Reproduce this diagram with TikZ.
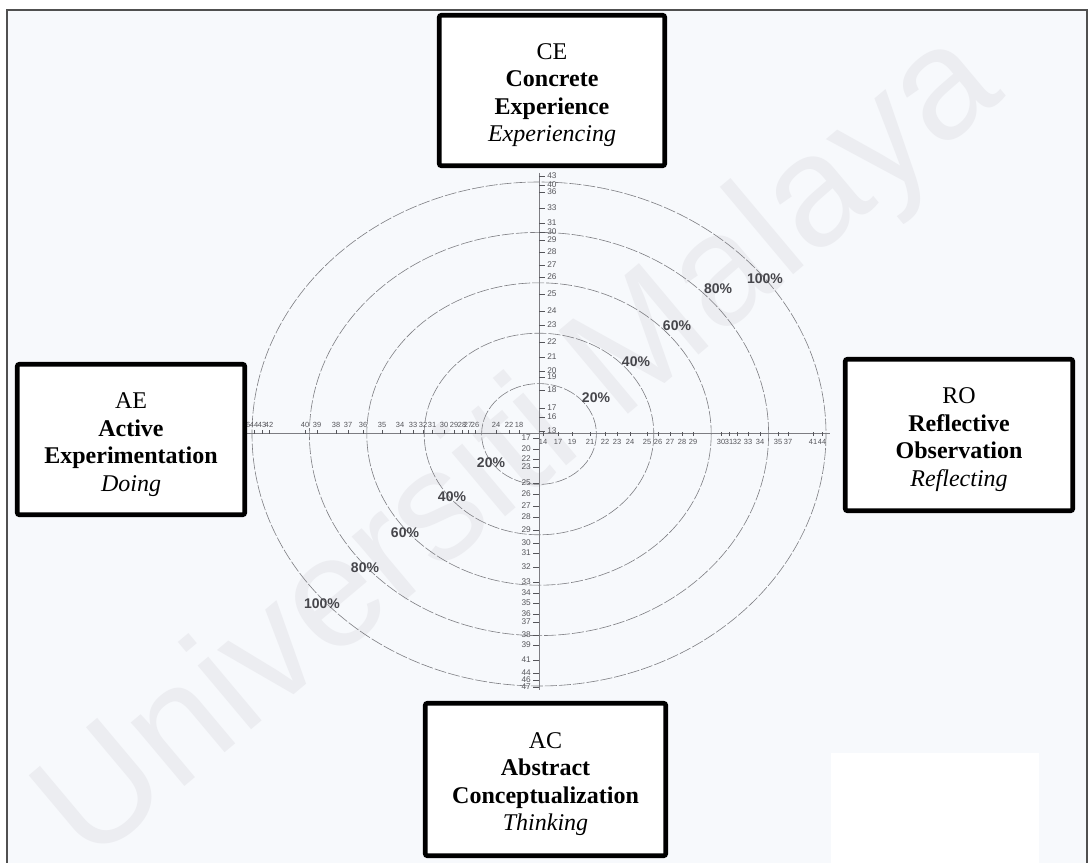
\documentclass[tikz,border=0pt]{standalone}
\usepackage{fontspec}
\setmainfont{Liberation Serif}
\setsansfont{Liberation Sans}
\definecolor{paper}{RGB}{247,249,252}
\definecolor{framegray}{RGB}{80,80,80}
\definecolor{ringgray}{RGB}{125,125,130}
\definecolor{tickgray}{RGB}{85,85,90}
\definecolor{pctgray}{RGB}{70,70,75}
\definecolor{wmgray}{RGB}{236,237,241}
\begin{document}
\begin{tikzpicture}[x=0.75pt,y=-0.75pt,
  stagebox/.style={draw=black, line width=3.4pt, fill=white, rounded corners=1.5pt, inner sep=0pt},
  stagetext/.style={align=center, inner sep=0pt, font=\fontsize{18}{20.6}\selectfont},
  ring/.style={draw=ringgray, line width=0.45pt, dash pattern=on 9pt off 1.5pt},
  axisline/.style={draw=ringgray, line width=0.45pt},
  scaletick/.style={draw=tickgray, line width=0.6pt},
  pct/.style={font=\sffamily\bfseries\fontsize{10.5}{12}\selectfont, text=pctgray, inner sep=0pt},
  vlab/.style={font=\sffamily\fontsize{6.2}{7}\selectfont, text=tickgray, inner sep=0pt},
  hlab/.style={font=\sffamily\fontsize{5.6}{6}\selectfont, text=tickgray, inner sep=0pt},
  stamptext/.style={font=\sffamily\fontsize{118}{118}\selectfont, text=wmgray, inner sep=0pt}]

% page and frame
\useasboundingbox (0,0) rectangle (1088,863);
\fill[white] (0,0) rectangle (1088,863);
\begin{scope}
  \clip (0,0) rectangle (1088,863);
  \filldraw[fill=paper, draw=framegray, line width=1.2pt] (7,10) rectangle (1087,880);
\end{scope}

% watermark
\node[stamptext, rotate=40] (wm) at (522,450) {Universiti Malaya};

% rings of the profile grid
\coordinate (c) at (539,434);
\foreach \k in {1,...,5}
  \draw[ring] (c) ellipse [x radius=57.4*\k, y radius=50.4*\k];

% axes
\draw[axisline] (539,173) -- (539,690);
\draw[axisline] (232,433) -- (830,433);

% upper scale (CE)
\foreach \v/\y in {43/176,40/185,36/192,33/208,31/223,30/232,29/240,28/252,27/265,26/277,
                   25/294,24/311,23/325,22/342,21/357,20/371,19/377,18/390,17/408,16/417,13/431}{
  \draw[scaletick] (539,\y) -- (545,\y);
  \node[vlab, anchor=west] (u\v) at (547,\y) {\v};
}

% lower scale (AC)
\foreach \v/\y in {17/438,20/449,22/459,23/467,25/483,26/494,27/506,28/517,29/530,30/543,31/553,
                   32/567,33/582,34/593,35/603,36/614,37/622,38/635,39/645,41/660,44/673,46/680,47/687}{
  \draw[scaletick] (533,\y) -- (539,\y);
  \node[vlab, anchor=east] (d\v) at (531,\y) {\v};
}

% left scale (AE)
\foreach \v/\x in {46/246,44/254,43/262,42/269,40/305,39/317,38/336,37/348,36/363,35/382,34/400,
                   33/413,32/423,31/432,30/444,29/454,28/462,27/468,26/475,24/496,22/509,18/519}{
  \draw[scaletick] (\x,430) -- (\x,434);
  \node[hlab, anchor=south] (l\v) at (\x,428) {\v};
}

% right scale (RO)
\foreach \v/\x in {14/543,17/558,19/572,21/590,22/605,23/617,24/630,25/647,26/658,27/670,28/682,
                   29/693,30/721,31/729,32/737,33/748,34/760,35/778,37/788,41/813,44/822}{
  \draw[scaletick] (\x,432) -- (\x,436);
  \node[hlab, anchor=north] (r\v) at (\x,439) {\v};
}

% percentile labels
\node[pct] (p20a) at (596,398) {20\%};
\node[pct] (p40a) at (636,362) {40\%};
\node[pct] (p60a) at (677,326) {60\%};
\node[pct] (p80a) at (718,289) {80\%};
\node[pct] (p100a) at (765,279) {100\%};
\node[pct] (p20b) at (491,463) {20\%};
\node[pct] (p40b) at (452,497) {40\%};
\node[pct] (p60b) at (405,533) {60\%};
\node[pct] (p80b) at (365,568) {80\%};
\node[pct] (p100b) at (322,604) {100\%};

% the four learning modes: frame, then its wording
\node[stagebox, minimum width=225.5*0.75pt, minimum height=150.5*0.75pt] (ce) at (552,90.5) {};
\node[stagetext] (ce-t) at ([yshift=-4.5*0.75pt]ce.center)
  {CE\\\textbf{Concrete}\\\textbf{Experience}\\\textit{Experiencing}};
\node[stagebox, minimum width=227.5*0.75pt, minimum height=150.5*0.75pt] (ae) at (131,439.5) {};
\node[stagetext] (ae-t) at ([yshift=-5*0.75pt]ae.center)
  {AE\\\textbf{Active}\\\textbf{Experimentation}\\\textit{Doing}};
\node[stagebox, minimum width=227.5*0.75pt, minimum height=151.5*0.75pt] (ro) at (959,435) {};
\node[stagetext] (ro-t) at ([yshift=-4.5*0.75pt]ro.center)
  {RO\\\textbf{Reflective}\\\textbf{Observation}\\\textit{Reflecting}};
\node[stagebox, minimum width=240.5*0.75pt, minimum height=152.5*0.75pt] (ac) at (545.5,779.5) {};
\node[stagetext] (ac-t) at ([yshift=-4.5*0.75pt]ac.center)
  {AC\\\textbf{Abstract}\\\textbf{Conceptualization}\\\textit{Thinking}};

% blank patch in the lower right corner
\fill[white] (831,753) rectangle (1039,863);
\end{tikzpicture}
\end{document}
